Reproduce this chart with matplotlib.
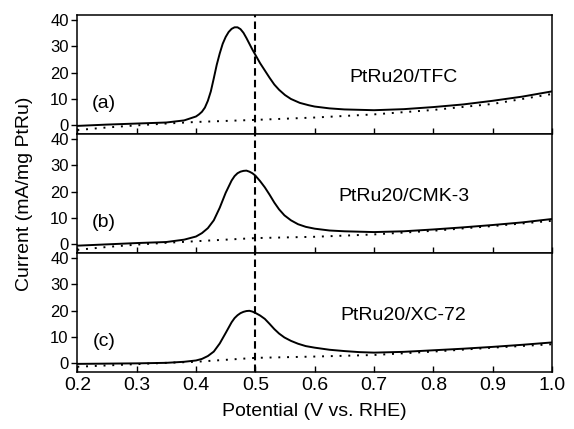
import matplotlib
matplotlib.use("Agg")
import matplotlib.pyplot as plt

plt.rcParams['font.family'] = ['Liberation Sans', 'DejaVu Sans']

# panel (a) PtRu20/TFC
v_a = [0.20, 0.25, 0.30, 0.35, 0.38, 0.40, 0.405, 0.41, 0.415, 0.42, 0.425,
       0.43, 0.435, 0.44, 0.445, 0.45, 0.455, 0.46, 0.465, 0.47, 0.475,
       0.48, 0.485, 0.49, 0.495, 0.50, 0.508, 0.516, 0.524, 0.532, 0.54,
       0.55, 0.56, 0.575, 0.59, 0.60, 0.625, 0.65, 0.70, 0.75, 0.80,
       0.85, 0.90, 0.95, 1.00]
i_a = [-0.4, 0.1, 0.5, 0.9, 1.7, 3.2, 4.0, 5.0, 6.6, 9.2, 12.8,
       17.8, 23.0, 27.3, 31.0, 33.6, 35.5, 36.7, 37.3, 37.3, 36.6,
       35.2, 33.2, 31.0, 28.8, 26.8, 23.6, 20.8, 18.0, 15.4, 13.4,
       11.4, 9.9, 8.4, 7.5, 7.0, 6.3, 5.9, 5.6, 6.0, 6.8,
       7.8, 9.2, 10.8, 12.8]
v_a_bg = [0.20, 0.25, 0.30, 0.35, 0.40, 0.50, 0.60, 0.70, 0.80, 0.90, 1.00]
i_a_bg = [-2.0, -1.0, -0.2, 0.5, 1.1, 1.9, 2.8, 4.0, 5.7, 8.0, 11.8]

# panel (b) PtRu20/CMK-3
v_b = [0.20, 0.25, 0.30, 0.35, 0.38, 0.40, 0.41, 0.42, 0.43, 0.44, 0.45,
       0.46, 0.465, 0.47, 0.475, 0.48, 0.485, 0.49, 0.495, 0.50, 0.508,
       0.516, 0.524, 0.532, 0.54, 0.549, 0.56, 0.572, 0.585, 0.60, 0.625,
       0.65, 0.70, 0.75, 0.80, 0.85, 0.90, 0.95, 1.00]
i_b = [-0.7, -0.2, 0.3, 0.7, 1.6, 2.8, 4.1, 6.0, 9.0, 13.8, 19.5,
       24.2, 25.9, 27.0, 27.6, 27.9, 28.0, 27.6, 27.0, 26.1, 24.0,
       21.6, 18.8, 15.8, 13.2, 10.9, 9.0, 7.5, 6.5, 5.8, 5.1,
       4.8, 4.5, 4.8, 5.5, 6.3, 7.2, 8.2, 9.5]
v_b_bg = [0.20, 0.25, 0.30, 0.35, 0.40, 0.50, 0.60, 0.70, 0.80, 0.90, 1.00]
i_b_bg = [-2.3, -1.2, -0.3, 0.4, 1.0, 2.2, 2.7, 3.6, 5.0, 6.8, 8.8]

# panel (c) PtRu20/XC-72
v_c = [0.20, 0.25, 0.30, 0.35, 0.38, 0.40, 0.41, 0.42, 0.43, 0.44, 0.45,
       0.46, 0.465, 0.47, 0.475, 0.48, 0.485, 0.49, 0.495, 0.50, 0.508,
       0.516, 0.524, 0.532, 0.54, 0.549, 0.56, 0.572, 0.585, 0.60, 0.625,
       0.65, 0.675, 0.70, 0.75, 0.80, 0.85, 0.90, 0.95, 1.00]
i_c = [-0.4, -0.3, -0.2, 0.0, 0.4, 0.9, 1.5, 2.6, 4.3, 7.4, 11.4,
       15.5, 17.1, 18.2, 19.0, 19.5, 19.8, 19.9, 19.6, 19.1, 18.1,
       16.8, 14.9, 12.9, 11.2, 9.7, 8.4, 7.3, 6.4, 5.8, 5.0,
       4.5, 4.1, 3.9, 4.2, 4.8, 5.4, 6.1, 6.9, 7.8]
v_c_bg = [0.20, 0.25, 0.30, 0.35, 0.40, 0.50, 0.60, 0.70, 0.80, 0.90, 1.00]
i_c_bg = [-1.5, -1.0, -0.5, 0.0, 0.4, 1.9, 2.4, 3.0, 4.3, 5.8, 7.1]

names = ['PtRu20/TFC', 'PtRu20/CMK-3', 'PtRu20/XC-72']
letters = ['(a)', '(b)', '(c)']
xticks = [0.2, 0.3, 0.4, 0.5, 0.6, 0.7, 0.8, 0.9, 1.0]
yticks = [0, 10, 20, 30, 40]

panels = [(v_a, i_a, v_a_bg, i_a_bg),
          (v_b, i_b, v_b_bg, i_b_bg),
          (v_c, i_c, v_c_bg, i_c_bg)]

fig, axes = plt.subplots(3, 1, sharex=True, figsize=(5.74, 4.29), dpi=100)
fig.subplots_adjust(left=0.1347, right=0.9617, top=0.965, bottom=0.1329, hspace=0)

for ax, (v, i, vb, ib), name, letter in zip(axes, panels, names, letters):
    ax.plot(v, i, color='black', lw=1.4)
    ax.plot(vb, ib, color='black', lw=1.4, ls=(0, (1, 3.5)))
    ax.axvline(0.5, color='black', lw=1.5, ls=(0, (3.6, 2)))
    ax.text(0.75, 18, name, ha='center', va='center', fontsize=14)
    ax.text(0.245, 8, letter, ha='center', va='center', fontsize=14)
    ax.set_xlim(0.2, 1.0)
    ax.set_ylim(-3.5, 42)
    ax.set_yticks(yticks)
    ax.set_xticks(xticks)
    ax.tick_params(axis='x', direction='in', length=4.3, width=1, labelsize=14, pad=3.4)
    ax.tick_params(axis='y', direction='out', length=4, width=1, labelsize=12, pad=2.2)
    for s in ax.spines.values():
        s.set_linewidth(1.1)

axes[-1].set_xticklabels(['0.2', '0.3', '0.4', '0.5', '0.6', '0.7', '0.8', '0.9', '1.0'])
axes[-1].set_xlabel('Potential (V vs. RHE)', fontsize=14, labelpad=7)
fig.text(0.042, 0.549, 'Current (mA/mg PtRu)', rotation=90, ha='center', va='center',
         fontsize=14)

fig.savefig('out.png', dpi=100)
